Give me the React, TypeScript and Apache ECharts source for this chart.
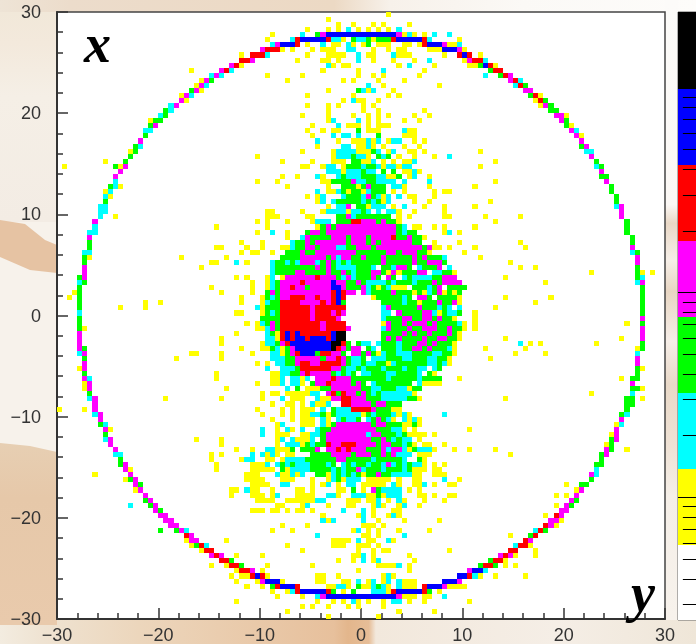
import React, { useEffect, useRef } from "react";
import * as echarts from "echarts";

const LEVEL_CODES = ".ycgmrbk";
const LEVEL_COLORS = ["#ffffff", "#ffff00", "#00ffff", "#00ff00", "#ff00ff", "#ff0000", "#0000ff", "#000000"];
const BAR_EDGES = [0.251, 0.583, 1.374, 3.23, 7.59, 17.8, 42, 98.6, 234];
const BAR_MINOR_TICKS = [0.3, 0.4, 0.5, 0.6, 0.7, 0.8, 0.9, 2, 3, 4, 5, 6, 7, 8, 9, 20, 30, 40, 50, 60, 70, 80, 90];
const BAR_MAJOR_TICKS = [1, 10, 100];

// One string per histogram row, top to bottom: "column:levels column:levels".
const CELL_ROWS: string[] = [
  "65:y",
  "53:y",
  "55:y 58:y 62:y 64:y 69:y",
  "49:y 53:y 55:y 57:c 59:y 61:y 63:y 65:y 67:c",
  "42:y 48:c 51:gm 53:bbbbbbbbbbbbbb 67:mycy 72:y 74:c 77:c",
  "41:y 46:crbbbbbrcc 56:y 58:gcc 61:gygggrbbbbbrc 79:y",
  "42:cmbbbr 49:y 52:c 54:yy 57:c 58:y 60:yg 63:yyy 68:yy 71:yrbbbmyyc",
  "40:mrrry 46:y 50:y 52:yyy 57:cc 62:y 65:y 67:yy 73:yyybbbmy",
  "36:y 38:rrrc 49:y 53:yyyy 59:c 61:yy 66:cyyy 76:y 79:rbr 83:y",
  "36:rrm 47:y 52:yy 55:y 59:c 62:y 66:y 70:y 73:c 80:ymrrc",
  "34:mry 53:cy 56:yy 67:y 69:c 74:y 81:yygbry",
  "26:y 32:mrc 52:y 59:y 64:c 72:y 85:grr",
  "30:cmc 41:y 48:y 59:y 62:y 64:y 71:y 84:c 87:grm",
  "28:ymg 45:y 56:y 58:y 63:y 68:y 89:mrc",
  "27:ymc 61:c 64:y 75:y 90:crg",
  "26:gmy 53:y 59:gcyc 66:y 92:mm",
  "24:ymc 49:y 58:y 65:y 67:y 93:gry",
  "24:my 56:y 58:cyy 63:y 94:yrg",
  "22:cm 49:y 53:y 55:y 60:y 62:y 95:ymg",
  "21:gc 53:y 60:y 63:y 72:y 97:gg",
  "20:cg 48:y 53:y 58:y 61:y 63:y 65:y 70:y 73:y 98:mmy",
  "18:ygg 53:yc 59:c 61:y 63:y 68:y 71:y 99:mg",
  "18:gm 50:y 55:c 57:yyy 61:y 63:yyy 100:gy",
  "17:cc 49:y 52:y 54:yy 59:g 61:yy 63:y 68:cyy 101:mc",
  "17:g 50:y 54:c 56:cc 59:c 63:g 68:yyy 102:my",
  "16:m 51:c 55:y 58:yyycy 63:c 65:ycc 70:y 72:y 103:m",
  "15:gc 51:y 56:cc 59:yyc 62:y 64:y 68:y 71:y 103:gm",
  "14:yg 48:y 54:yccccyyygc 65:yc 69:yy 72:y 83:y 104:cc",
  "14:g 39:y 54:ycccgccy 63:gcg 67:y 70:y 74:y 77:c 105:m",
  "9:y 13:g 44:y 50:y 54:yyy 58:ggyyc 64:y 66:y 68:yyc 86:y 106:g",
  "1:y 11:gym 48:yy 52:ycc 56:ygggcggcyccycc 83:y 106:cg",
  "12:m 53:cccycccgcc 64:g 66:g 68:yycy 107:m",
  "11:m 44:y 47:y 51:cy 55:cgcccgggccyyg 69:yc 73:y 107:gg",
  "11:c 39:y 43:y 52:yygggg 58:mccggcccc 68:c 73:c 86:y 108:m",
  "10:gcy 45:y 53:y 56:gggygmggg 66:ccy 73:y 82:y 109:g",
  "9:yc 51:c 53:yyc 56:gyggycggg 66:y 68:y 74:y 76:yy 109:g",
  "9:cy 49:y 51:yc 56:cgggcmgcyc 67:c 69:yy 74:y 110:g",
  "9:g 51:yc 54:cgggggcgcgyc 70:y 73:y 85:y 110:g",
  "8:cc 53:y 55:ccm 59:ggyccc 66:y 68:c 72:y 76:y 82:y 110:cm",
  "8:cc 41:yy 48:y 52:ycccc 57:yccgc 63:c 65:ccy 70:y 76:y 111:m",
  "8:c 11:y 41:yyy 49:yy 55:ggmcggggggg 67:y 69:y 76:yy 84:y 91:y 111:m",
  "7:m 39:y 41:y 45:y 50:yccc 55:gggrrmmmgmggy 86:y 112:g",
  "7:c 31:y 41:y 51:ygmgmmmmmmmmmmmmgc 70:yy 74:y 76:y 82:y 112:g",
  "6:cc 39:y 42:c 45:y 49:gmmgmmmmmmmmmmmmmmgcgg 76:yc 79:y 112:g",
  "6:m 45:y 48:c 49:mggggmmmgmmmgmmmmrggmggy 113:g",
  "6:g 36:y 40:y 46:cggmgmmmmmmgmmmgmgmmmmmmgg 74:y 79:y 91:y 113:g",
  "6:g 31:yy 37:y 40:y 44:yycggmmgmmmccggmmmgmmmmmmmmmgmyy 77:y 82:y 92:y 113:m",
  "5:cc 36:y 38:yy 42:y 45:gggmggmmmmmmmmggggggmmgmmmggy 80:y 113:cg",
  "5:gy 24:y 33:y 44:ggggmmmmmgmcmmggmgggmgggggmgmgggc 83:y 114:m",
  "5:g 30:yy 35:c 37:y 42:cggcgcmmmcgmgcgcggggggmgggggmggmmmg 89:y 114:m",
  "5:m 28:y 42:cggggggggmgmgccccgggc.ggcmmg.cgggm.c 91:y 94:y 114:g",
  "5:m 42:cggggmmggggmggmgcgggmmgymygggmm.ccggy 105:y 114:gy 117:y",
  "4:gm 35:y 37:y 41:yc.ymmmmmmrmmmgcmcgggmg.mg.cgccccggmmm 88:y 114:gc",
  "4:cg 38:y 41:ycgmmmmrmmmmmbmmggmgccccgcgggcgggmgmmmm 96:y 114:cm",
  "4:g 30:y 38:y 41:ycgmmrmmgmmmmbbmgggmcgygcyyy.gggcgm.gggg 115:g",
  "3:yg 32:y 38:y 41:gmgmmmmmmmmmmrbrmm.mcggggmgggygycgmygyg 115:g",
  "2:y 4:g 36:y 40:y 41:gcgmmrrrmmrmmrbr 62:ygggggcg.mmg.ggggy 88:y 97:y 115:g",
  "4:g 17:y 20:y 36:y 40:ycggrrrrmmmmrmrbg 64:ggggcggygggmggmy 94:y 115:g",
  "4:g 12:y 17:y 39:cyggg 44:rrrrrrmrrrrrr 64:cmgggggmgggcgc.c 86:y 115:g",
  "4:c 35:yy 40:ygcgrrrrrrmrrrmrm 64:cc.mggggmmcygccg 82:y 115:g",
  "4:g 40:ggggrrrrrrmrrrrm 64:cgggmmggmmgmggy 82:y 115:m",
  "4:g 37:y 39:yc 41:gmg 44:rrrrrrrrmrrrr 64:ymggmgmmmgmggggcy 82:y 112:y 115:g",
  "4:gy 39:yyc 42:mg 44:rrrrrrrrmrrrrm 64:cmgggmggmmmggmgg 80:y 82:y 115:m",
  "4:m 35:y 41:cgyrbrbrrrrrrbkk 64:ggggmgmggmgggmg 79:y 115:m",
  "4:m 32:y 41:ccyrbrbbrbbbrbkk 64:gmgmggggmggmmgg 79:y 88:y 111:y 115:m",
  "4:m 32:y 40:yccgmrbbbbbbbbkkr 57:g 59:gcc 63:c 64:gggcgggmmgmgg 77:gy 91:c 93:y 95:y 106:y 115:g",
  "4:mg 36:y 40:yygcygmbbbbbbbkrm 57:gmm 61:gc 64:gggcggmmgmgg 76:gcy 84:y 92:y 114:yg",
  "4:cm 26:yy 32:y 38:y 42:ccygmrbbbgrrmmg 58:mmgmg 63:ycggcccggggccggy 90:y 96:y 114:c",
  "5:g 23:y 32:y 42:cccggmmmmmgmmrmgccg 62:cccgggccgggccggy 85:y 114:m",
  "5:m 39:y 41:y 43:ccggmrrmmrrrrmgccg 61:ccggycggggggccgcy 114:m",
  "4:ym 41:c 44:cccgrrrrrrmmg 57:ccgcgggcgggcggcc 74:cg 114:gy",
  "5:g 31:y 42:yycc 46:ggmrmmmmgcg 57:cg 60:ccgggccggggc 73:gy 114:g",
  "5:mc 31:y 42:yyc 46:ccyc 51:mmmrmmmgggggggcgggggcgggg 79:y 111:y 113:gg",
  "5:ym 39:y 42:yyc 46:ccy 50:gmmrmmmm 58:gmg 62:cggggggg 71:cyyyy 113:m",
  "5:ym 33:y 45:c 47:g 49:yyyggmmmm 58:mmggccgggccygg 113:gg 115:y",
  "6:g 40:y 42:yy 45:yyyyycc 53:mrgr 57:mmgmgcgccccccy 105:y 113:c",
  "6:cm 21:y 32:y 40:y 44:c 46:yyy 51:cyy 54:mmrr 58:mmmgggcccccggy 88:y 112:gg 115:y",
  "7:m 42:y 45:yy 48:y 50:cyyc 56:rrmmmmgmmggg 112:gg",
  "0:y 5:y 7:m 39:y 44:y 46:y 48:yyy 52:c 54:gccc 58:rrrrmgggyy 112:g",
  "7:cm 40:y 44:y 46:y 48:yycc 52:gygccc 58:ccygcgggcycy 76:c 111:gc",
  "8:m 42:y 46:y 48:yyy 52:cy 55:cg 57:ccg 61:cgmgcy 68:cycy 111:m",
  "8:gc 43:yc 48:yyy 52:cyg 55:mm 57:mmmmmgmmgggyygy 110:yc",
  "9:my 40:c 43:y 45:cy 48:c 51:cgg 54:mmmmmmmm 62:mgggcc 68:y 70:y 81:y 110:m",
  "9:g 40:c 43:yyy 48:yyccg 53:mmmmmmmm 61:cmmgggcg 69:yyy 72:y 74:y 109:ym",
  "9:cm 27:y 32:y 43:yc 46:cyyy 50:c 52:gmmmmmmmmm 62:ggmgcgcc 71:y 109:gm",
  "10:m 32:y 43:y 45:cccygcggrmmrrr 59:mmmmgmmggcgy 72:yy 76:y 108:yg",
  "11:m 35:y 38:y 41:ccyyyg 48:gggm 53:mmrm 57:rmmmgggmcmmcygcccy 78:y 81:y 86:y 108:mg 112:y",
  "11:cc 30:y 32:y 38:c 40:cyc 43:y 45:yy 50:gggg 54:mmmmgmmmggmgmccc 71:yyy 89:y 107:gm",
  "12:g 30:y 36:ycc 41:yy 44:yccccgggggg 55:mmgggggcgggggc 71:gy 107:g",
  "12:gm 31:y 38:yyyc 43:cgcgcccgggcg 56:cg 58:cggcggcmcgcgcc 72:y 74:y 76:y 106:gg",
  "13:my 31:y 38:yyyyy 44:gyccccggggcgcg 58:gmcgggcgggcgyyy 74:yy 106:c",
  "7:y 14:m 37:yyy 43:cyycyc 51:ggycgc 57:gcgyggmggccccyy 74:yyy 105:mc",
  "13:ygm 37:yyy 40:y 44:yyy 50:y 53:ycgy 57:ccc 61:yyyyy 67:y 70:yy 76:c 79:y 105:g",
  "15:mg 38:yyyy 44:cc 50:y 52:yc 55:y 57:cc 60:yyyyy 66:c 67:y 70:yyc 74:y 77:yy 100:y 103:gg",
  "15:ym 34:yy 37:cyy 42:y 47:yy 50:y 55:yy 58:g 60:y 62:m 63:gcccc 69:y 71:y 102:ym",
  "17:m 34:y 38:yyy 42:yc 47:yyyy 53:cc 55:y 58:cccyygyccc 71:yy 74:y 77:yy 98:y 100:y 102:m",
  "17:gm 39:yyy 42:y 45:yy 47:yyy 50:y 51:cc 57:yyy 61:yyc 65:y 67:c 68:y 72:y 76:y 101:mg",
  "14:c 18:gm 43:yy 48:yc 53:y 57:yy 62:y 63:cy 67:y 68:c 71:y 98:y 100:mg",
  "19:mg 38:yyy 42:yy 45:y 47:yy 50:y 56:c 60:c 62:y 66:yy 99:mm",
  "20:mm 52:y 59:y 60:c 62:y 65:yc 67:y 96:y 98:rm",
  "21:mm 52:cyc 60:c 63:y 68:y 75:y 97:mmy",
  "22:mm 44:y 49:y 60:yyy 64:y 96:rmy",
  "20:g 23:gmc 42:y 46:y 58:yc 61:y 63:y 67:y 73:y 94:crg",
  "25:rm 51:c 60:yy 63:y 68:c 89:y 93:gr",
  "25:ymm 33:y 54:yyyy 59:c 61:yy 65:cy 92:rm",
  "26:ygrc 45:y 54:yyy 59:yyy 63:y 90:crry",
  "28:yrr 48:y 59:y 62:y 64:yy 77:y 89:rr 94:y",
  "30:mrm 35:y 40:y 58:yy 60:c 62:y 69:y 87:mrmy 94:y",
  "32:rrg 55:y 58:y 60:c 62:y 63:c 70:y 85:grry",
  "30:y 33:yrrg 41:y 50:y 63:yyyy 67:c 69:y 83:grrg 88:y 90:y",
  "35:yrrm 40:y 59:y 69:y 81:mbbc",
  "34:y 36:yyrbry 51:yy 55:y 64:y 65:c 66:y 79:bbrcy 86:y 92:y",
  "35:y 39:y 40:mbbby 51:yy 56:y 57:y 59:c 61:y 62:c 64:y 65:c 67:c 68:yyy 76:bbbm",
  "37:y 40:y 42:grbbbr 53:yycc 57:y 59:g 60:yy 62:c 63:g 64:c 65:y 67:c 68:yyy 72:rbbbmyy 79:yy",
  "42:y 45:ycrbbbbbrg 56:y 58:g 62:ccc 65:yrbbbbbrg 75:y",
  "43:y 48:y 51:cmbbbbbbbbbbbbbbm 68:yyy 72:y 73:y 76:c",
  "35:y 51:y 54:y 56:y 58:c 59:y 61:y 64:y 66:cc 69:y 72:y 81:y",
  "48:y 50:y 53:y 57:y 59:y 64:y",
  "45:y 67:y 74:y",
  "53:y 63:y",
];

const BIN_WIDTH = 0.5;
const AXIS_MIN = -30;
const AXIS_MAX = 30;

function buildCells(): number[][] {
  const cells: number[][] = [];
  CELL_ROWS.forEach((row, r) => {
    row.split(" ").forEach((part) => {
      const [start, codes] = part.split(":");
      [...codes].forEach((code, i) => {
        const level = LEVEL_CODES.indexOf(code);
        if (level <= 0) return;
        const col = Number(start) + i;
        cells.push([AXIS_MIN + (col + 0.5) * BIN_WIDTH, AXIS_MAX - (r + 0.5) * BIN_WIDTH, level]);
      });
    });
  });
  return cells;
}

const formatTick = (v: number) => (v < 0 ? "\u2212" + Math.abs(v) : String(v));

const renderCell = (_p: any, api: any) => {
  const x = api.value(0);
  const y = api.value(1);
  const half = BIN_WIDTH / 2;
  const a = api.coord([x - half, y + half]);
  const b = api.coord([x + half, y - half]);
  const x0 = Math.round(a[0]);
  const y0 = Math.round(a[1]);
  return {
    type: "rect",
    shape: { x: x0, y: y0, width: Math.round(b[0]) - x0, height: Math.round(b[1]) - y0 },
    style: { fill: LEVEL_COLORS[api.value(2)] },
  };
};

const renderBand = (_p: any, api: any) => {
  const a = api.coord([0, api.value(1)]);
  const b = api.coord([1, api.value(0)]);
  return {
    type: "rect",
    shape: { x: a[0], y: Math.round(a[1]), width: b[0] - a[0], height: Math.round(b[1]) - Math.round(a[1]) },
    style: { fill: LEVEL_COLORS[api.value(2)] },
  };
};

const renderBarTick = (_p: any, api: any) => {
  const y = Math.round(api.coord([0, api.value(0)])[1]) + 0.5;
  const left = api.coord([api.value(1), 0])[0];
  const right = api.coord([1, 0])[0];
  return {
    type: "line",
    shape: { x1: left, y1: y, x2: right, y2: y },
    style: { stroke: "#000000", lineWidth: 1 },
  };
};

const bgRect = (x: number, y: number, width: number, height: number, fill: any) => ({
  type: "rect",
  z: -10,
  silent: true,
  shape: { x, y, width, height },
  style: { fill },
});
const bgPoly = (points: number[][], fill: any) => ({
  type: "polygon",
  z: -9,
  silent: true,
  shape: { points },
  style: { fill },
});
const hGradient = (stops: [number, string][]) =>
  new echarts.graphic.LinearGradient(0, 0, 1, 0, stops.map(([offset, color]) => ({ offset, color })));
const vGradient = (stops: [number, string][]) =>
  new echarts.graphic.LinearGradient(0, 0, 0, 1, stops.map(([offset, color]) => ({ offset, color })));

export default function App() {
  const ref = useRef<HTMLDivElement>(null);
  useEffect(() => {
    if (!ref.current) return;
    const chart = echarts.init(ref.current, undefined, { renderer: "svg" });
    const labelStyle = { color: "#333333", fontFamily: "Liberation Sans", fontSize: 18 };
    const tickStyle = { color: "#333333", width: 1.5 };
    const bands = BAR_EDGES.slice(0, -1).map((lo, i) => [
      Math.log10(lo),
      Math.log10(BAR_EDGES[i + 1]),
      i,
    ]);
    const barTicks = [
      ...BAR_MINOR_TICKS.map((v) => [Math.log10(v), 0.27]),
      ...BAR_MAJOR_TICKS.map((v) => [Math.log10(v), 0]),
    ];
    chart.setOption({
      animation: false,
      backgroundColor: "transparent",
      graphic: [
        bgRect(0, 0, 696, 644, "#f7f2eb"),
        bgRect(0, 0, 696, 12, hGradient([[0, "#eee4d6"], [0.1, "#ecdccb"], [0.48, "#ecd9c4"], [0.56, "#f7f1ea"], [0.75, "#fbf9f6"], [1, "#fdfcfa"]])),
        bgRect(0, 12, 57, 210, vGradient([[0, "#f1e8d9"], [0.15, "#f3e9dc"], [0.4, "#f5efe6"], [1, "#f3ece4"]])),
        bgPoly([[0, 220], [25, 224], [45, 240], [57, 245], [57, 273], [30, 270], [0, 257]], "#e6c3a3"),
        bgPoly([[0, 443], [30, 446], [57, 452], [57, 625], [0, 625]], vGradient([[0, "#e7cfb3"], [0.3, "#e6c8a9"], [1, "#e9caac"]])),
        bgRect(0, 620, 696, 24, hGradient([[0, "#f3ece0"], [0.06, "#efe3d2"], [0.2, "#ecd6bc"], [0.48, "#e7c09c"], [0.5, "#e3b68c"], [0.53, "#e6bd97"], [0.54, "#f2e8dc"], [0.8, "#f5eee6"], [1, "#efe6d8"]])),
        bgRect(665, 0, 13, 620, vGradient([[0, "#fcfbf9"], [0.33, "#fbf8f5"], [0.36, "#e9d8c6"], [0.42, "#f6efe8"], [0.47, "#e8d6c3"], [0.55, "#f6eee8"], [0.62, "#e9d9c8"], [0.72, "#efe2d5"], [0.8, "#f5efe8"], [1, "#f7f2ec"]])),
        {
          type: "text",
          z: 20,
          silent: true,
          x: 84,
          y: 17,
          style: {
            text: "x",
            fill: "#000000",
            fontFamily: "Liberation Serif",
            fontStyle: "italic",
            fontWeight: "bold",
            fontSize: 54,
          },
        },
        {
          type: "text",
          z: 20,
          silent: true,
          x: 631,
          y: 566,
          style: {
            text: "y",
            fill: "#000000",
            fontFamily: "Liberation Serif",
            fontStyle: "italic",
            fontWeight: "bold",
            fontSize: 54,
          },
        },
      ],
      grid: [
        {
          left: 57,
          top: 12,
          width: 608,
          height: 608,
          show: true,
          backgroundColor: "#ffffff",
          borderColor: "#444444",
          borderWidth: 1.5,
        },
        {
          left: 678,
          top: 12,
          width: 30,
          height: 608,
          show: true,
          backgroundColor: "#ffffff",
          borderColor: "#666666",
          borderWidth: 1,
        },
      ],
      xAxis: [
        {
          type: "value",
          gridIndex: 0,
          min: AXIS_MIN,
          max: AXIS_MAX,
          interval: 10,
          splitLine: { show: false },
          axisLine: { show: true, onZero: false, lineStyle: { color: "#333333", width: 2 } },
          axisTick: { show: true, inside: true, length: 11, lineStyle: tickStyle },
          minorTick: { show: true, splitNumber: 5, length: 6, lineStyle: tickStyle },
          axisLabel: { ...labelStyle, margin: 7, formatter: formatTick, hideOverlap: false },
        },
        {
          type: "value",
          gridIndex: 1,
          min: 0,
          max: 1,
          show: false,
        },
      ],
      yAxis: [
        {
          type: "value",
          gridIndex: 0,
          min: AXIS_MIN,
          max: AXIS_MAX,
          interval: 10,
          splitLine: { show: false },
          axisLine: { show: true, onZero: false, lineStyle: { color: "#333333", width: 2 } },
          axisTick: { show: true, inside: true, length: 11, lineStyle: tickStyle },
          minorTick: { show: true, splitNumber: 5, length: 6, lineStyle: tickStyle },
          axisLabel: { ...labelStyle, margin: 16, formatter: formatTick, hideOverlap: false },
        },
        {
          type: "value",
          gridIndex: 1,
          min: Math.log10(BAR_EDGES[0]),
          max: Math.log10(BAR_EDGES[BAR_EDGES.length - 1]),
          show: false,
        },
      ],
      series: [
        {
          type: "custom",
          xAxisIndex: 0,
          yAxisIndex: 0,
          renderItem: renderCell,
          data: buildCells(),
          silent: true,
          encode: { x: 0, y: 1 },
        },
        {
          type: "custom",
          xAxisIndex: 1,
          yAxisIndex: 1,
          renderItem: renderBand,
          data: bands,
          silent: true,
        },
        {
          type: "custom",
          xAxisIndex: 1,
          yAxisIndex: 1,
          renderItem: renderBarTick,
          data: barTicks,
          silent: true,
          z: 5,
        },
      ],
    });
    return () => chart.dispose();
  }, []);
  return <div ref={ref} style={{ position: "fixed", left: 0, top: 0, width: 696, height: 644 }} />;
}
